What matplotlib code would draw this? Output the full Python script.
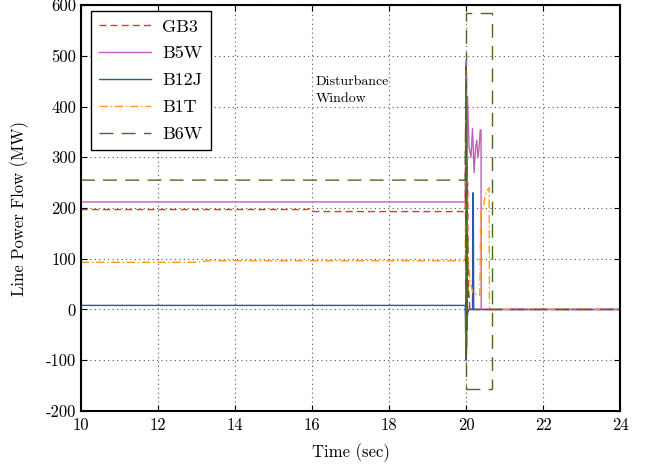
import matplotlib
matplotlib.use("Agg")
import matplotlib.pyplot as plt
import matplotlib.patches as patches

plt.rcParams["font.family"] = ["cmr10", "DejaVu Serif"]
plt.rcParams["axes.unicode_minus"] = False
plt.rcParams["mathtext.fontset"] = "cm"

# Line power flows (MW)
t_gb3 = [10, 15.85, 15.95, 16.0, 19.98, 20.0, 20.01, 20.02, 20.03, 20.04, 20.05, 20.07, 20.1, 24]
p_gb3 = [197, 197, 199, 193, 193, 380, -60, 300, 40, 250, 120, 40, 0, 0]

t_b5w = [10, 19.98, 20.0, 20.005, 20.01, 20.02, 20.04, 20.08, 20.13, 20.17, 20.21, 20.25, 20.28,
         20.31, 20.34, 20.37, 20.39, 20.395, 24]
p_b5w = [212, 212, 490, 150, 470, 300, 420, 320, 300, 357, 270, 320, 334, 300, 318, 354, 354, 0, 0]

t_b12j = [10, 19.98, 20.0, 20.01, 20.02, 20.03, 20.05, 20.08, 20.17, 20.18, 20.19, 20.2, 24]
p_b12j = [8, 8, -100, 60, -40, -17, -5, 0, 0, 230, 230, 0, 0]

t_b1t = [10, 13.0, 13.3, 19.98, 20.0, 20.01, 20.02, 20.03, 20.05, 20.07, 20.1, 20.18, 20.3, 20.36,
         20.38, 20.45, 20.5, 20.55, 20.6, 20.61, 24]
p_b1t = [93, 93, 96, 96, 400, -80, 300, 60, 103, 90, 60, 32, 30, 28, 190, 200, 225, 235, 240, 0, 0]

t_b6w = [10, 19.98, 20.0, 20.005, 20.01, 20.015, 20.02, 20.03, 20.04, 20.05, 20.07, 20.1, 24]
p_b6w = [255, 255, 480, -100, 420, -80, 300, -40, 150, 40, 10, 0, 0]

# Disturbance window annotation
win_t = (20.0, 20.68)
win_p = (-157, 585)

fig = plt.figure(figsize=(6.52, 4.68), dpi=100)
ax = fig.add_axes([0.124, 0.122, 0.827, 0.867])

ax.plot(t_gb3, p_gb3, color="#ff2a2a", lw=1.0, dashes=(5, 3), label="GB3")
ax.plot(t_b5w, p_b5w, color="#c060b8", lw=1.0, label="B5W")
ax.plot(t_b12j, p_b12j, color="#2f55a8", lw=1.0, label="B12J")
ax.plot(t_b1t, p_b1t, color="#ff9a1a", lw=1.0, dashes=(6, 2, 1, 2), label="B1T")
ax.plot(t_b6w, p_b6w, color="#4f6a20", lw=1.0, dashes=(10, 6), label="B6W")

rect = patches.Rectangle((win_t[0], win_p[0]), win_t[1] - win_t[0], win_p[1] - win_p[0],
                         fill=False, edgecolor="#4f6a20", lw=1.0, linestyle=(0, (10, 6)))
ax.add_patch(rect)
ax.text(16.1, 432, "Disturbance\nWindow", fontsize=10, ha="left", va="center", linespacing=1.6)

ax.set_xlim(10, 24)
ax.set_ylim(-200, 600)
ax.set_xticks(range(10, 25, 2))
ax.set_yticks(range(-200, 601, 100))
ax.grid(True, linestyle=(0, (1, 3)), color="#555555", lw=0.8)
ax.tick_params(direction="in", labelsize=12, length=4, width=0.8, top=True, right=True)
ax.tick_params(axis="x", pad=5)
for s in ax.spines.values():
    s.set_linewidth(1.5)

ax.set_xlabel("Time (sec)", fontsize=12, labelpad=7)
ax.set_ylabel("Line Power Flow (MW)", fontsize=12, labelpad=12)

leg = ax.legend(loc="upper left", fontsize=13, handlelength=2.9, handletextpad=0.6,
                fancybox=False, edgecolor="black", framealpha=1, borderpad=0.45,
                labelspacing=0.62, borderaxespad=0.2, bbox_to_anchor=(0.012, 0.995))
leg.get_frame().set_linewidth(1.0)

fig.savefig("out.png", dpi=100)
